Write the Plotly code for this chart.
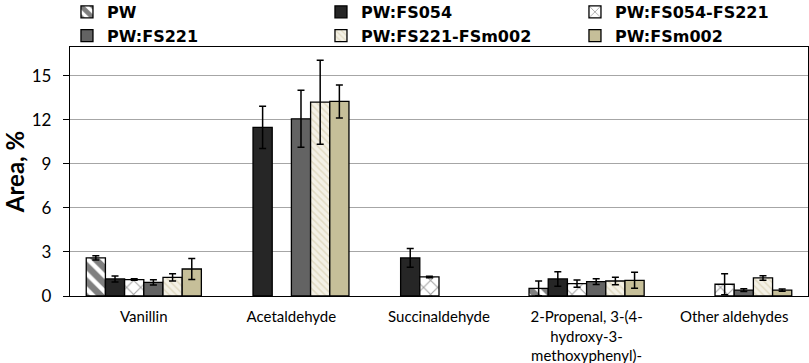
import plotly.graph_objects as go

categories = ["Vanillin", "Acetaldehyde", "Succinaldehyde",
              "2-Propenal, 3-(4-<br>hydroxy-3-<br>methoxyphenyl)-", "Other aldehydes"]

series_names = ["PW", "PW:FS054", "PW:FS054-FS221", "PW:FS221", "PW:FS221-FSm002", "PW:FSm002"]

pw = [2.6, None, None, 0.52, None]
pw_err = [0.15, None, None, 0.5, None]
fs054 = [1.16, 11.48, 2.59, 1.16, None]
fs054_err = [0.2, 1.44, 0.64, 0.49, None]
fs054_fs221 = [1.12, None, 1.3, 0.84, 0.8]
fs054_fs221_err = [0.05, None, 0.05, 0.25, 0.72]
fs221 = [0.93, 12.07, None, 0.98, 0.4]
fs221_err = [0.18, 1.94, None, 0.2, 0.1]
fs221_fsm002 = [1.27, 13.2, None, 1.02, 1.23]
fs221_fsm002_err = [0.25, 2.86, None, 0.26, 0.15]
fsm002 = [1.84, 13.25, None, 1.07, 0.4]
fsm002_err = [0.72, 1.12, None, 0.55, 0.07]

values = [pw, fs054, fs054_fs221, fs221, fs221_fsm002, fsm002]
errors = [pw_err, fs054_err, fs054_fs221_err, fs221_err, fs221_fsm002_err, fsm002_err]

y_ticks = [0, 3, 6, 9, 12, 15]

styles = [
    dict(color="white", pattern=dict(shape="\\", fgcolor="black", bgcolor="white", size=11, solidity=0.6, fillmode="overlay")),
    dict(color="#262626"),
    dict(color="white", pattern=dict(shape="x", fgcolor="#444444", bgcolor="white", size=10, solidity=0.2, fillmode="overlay")),
    dict(color="#636363"),
    dict(color="#f4f1e6", pattern=dict(shape="\\", fgcolor="#cdc4a0", bgcolor="#f4f1e6", size=5, solidity=0.3, fillmode="overlay")),
    dict(color="#c6bf99"),
]

FONT = "Lato"
LEG_FONT = "DejaVu Sans"

fig = go.Figure()
for name, vals, errs, st in zip(series_names, values, errors, styles):
    marker = dict(line=dict(color="black", width=1.3), **st)
    fig.add_trace(go.Bar(
        name=name, x=categories, y=vals,
        error_y=dict(type="data", array=errs, visible=True, color="black", thickness=1.5, width=3.5),
        marker=marker,
    ))

fig.update_layout(
    width=809, height=363,
    margin=dict(l=70, r=1, t=47, b=67, autoexpand=False),
    barmode="group", bargap=0.22, bargroupgap=0,
    plot_bgcolor="white", paper_bgcolor="white",
    font=dict(family=FONT, color="black", size=15),
    legend=dict(orientation="h", x=-0.0041, xanchor="left",
                y=1.209, yanchor="top",
                entrywidth=209, entrywidthmode="pixels", itemwidth=30,
                font=dict(family=LEG_FONT, size=16, color="black", weight="bold"),
                bgcolor="rgba(0,0,0,0)", tracegroupgap=0),
    showlegend=True,
)
fig.update_yaxes(range=[0, 16.96], tickvals=y_ticks, showgrid=True, gridcolor="#a6a6a6", gridwidth=1.3,
                 showline=True, linecolor="black", linewidth=1.3, mirror=True,
                 ticks="outside", ticklen=6, tickcolor="black", tickwidth=1.3,
                 ticklabelstandoff=8,
                 tickfont=dict(size=17, family=FONT),
                 title=dict(text="Area, %", font=dict(size=24, family=FONT, weight="bold"), standoff=12),
                 zeroline=False)
fig.update_xaxes(showline=True, linecolor="black", linewidth=1.3, mirror=True,
                 ticks="", ticklabelstandoff=7, tickfont=dict(size=15, family=FONT))

fig.write_html("out.html", config={"displayModeBar": False},
               post_script="document.body.style.margin='0';")
